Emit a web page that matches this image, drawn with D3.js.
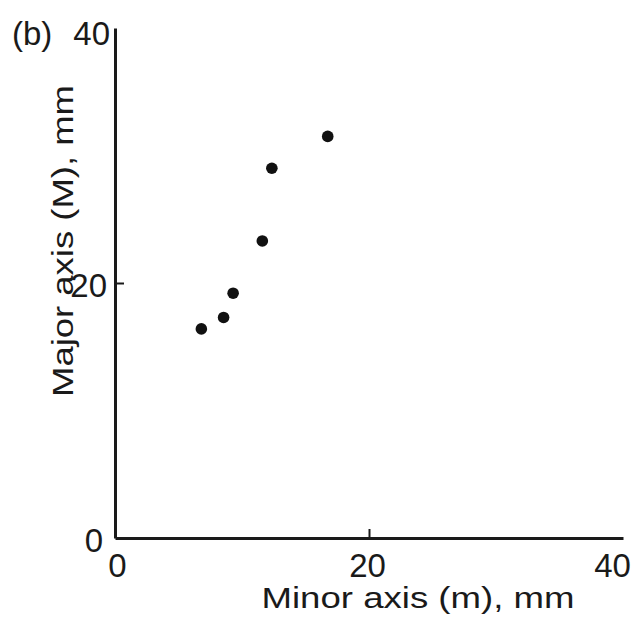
<!DOCTYPE html>
<html>
<head>
<meta charset="utf-8">
<script src="https://cdn.jsdelivr.net/npm/d3@7"></script>
<style>
  body { margin: 0; background: #fff; }
  text { font-family: "Liberation Sans", Arial, Helvetica, sans-serif; fill: #1a1a1a; }
</style>
</head>
<body>
<div id="chart"></div>
<script>
// values (mm)
var minorAxis = [16.75, 12.35, 11.6, 9.3, 8.55, 6.8];
var majorAxis = [31.5, 29.0, 23.3, 19.2, 17.3, 16.4];
var xTicks = [0, 20, 40];
var yTicks = [0, 20, 40];

var W = 644, H = 629;
var margin = {top: 28, right: 21, bottom: 91, left: 115};

var svg = d3.select("#chart").append("svg")
  .attr("width", W)
  .attr("height", H);

var x = d3.scaleLinear().domain([0, 40]).range([margin.left, W - margin.right]);
var y = d3.scaleLinear().domain([0, 40]).range([H - margin.bottom, margin.top]);

// x axis, ticks point inward
var gx = svg.append("g")
  .attr("transform", "translate(0," + y(0) + ")")
  .call(d3.axisBottom(x).tickValues(xTicks).tickSizeInner(-9).tickSizeOuter(0).tickPadding(0));

// y axis
var gy = svg.append("g")
  .attr("transform", "translate(" + x(0) + ",0)")
  .call(d3.axisLeft(y).tickValues(yTicks).tickSizeInner(-9).tickSizeOuter(0).tickPadding(0));

[gx, gy].forEach(function(g) {
  g.select(".domain").attr("stroke", "#1a1a1a").attr("stroke-width", 3);
  g.selectAll(".tick line").attr("stroke", "#1a1a1a").attr("stroke-width", 2)
    .attr("display", function(d) { return (d === 0 || d === 40) ? "none" : null; });
  g.selectAll(".tick text").attr("font-size", 33).attr("fill", "#1a1a1a")
    .attr("font-family", "Liberation Sans, Arial, sans-serif");
});

gx.selectAll(".tick text")
  .attr("y", 39).attr("dy", 0)
  .attr("x", function(d) { return d === 40 ? -11 : (d === 0 ? 2 : -2); });

gy.selectAll(".tick text")
  .attr("x", function(d) { return d === 20 ? -8 : (d === 0 ? -12 : -5); })
  .attr("dy", "0.36em")
  .attr("y", function(d) { return d === 40 ? 5 : 2; });

// panel letter
svg.append("text")
  .attr("x", 12)
  .attr("y", 45)
  .attr("font-size", 33)
  .text("(b)");

// axis titles
svg.append("text")
  .attr("x", 418)
  .attr("y", 608)
  .attr("text-anchor", "middle")
  .attr("font-size", 30)
  .attr("textLength", 313)
  .attr("lengthAdjust", "spacingAndGlyphs")
  .text("Minor axis (m), mm");

svg.append("text")
  .attr("transform", "translate(73,241) rotate(-90)")
  .attr("text-anchor", "middle")
  .attr("font-size", 30)
  .attr("textLength", 312)
  .attr("lengthAdjust", "spacingAndGlyphs")
  .text("Major axis (M), mm");

// points
svg.append("g")
  .selectAll("circle")
  .data(minorAxis)
  .enter()
  .append("circle")
  .attr("cx", function(d) { return x(d); })
  .attr("cy", function(d, i) { return y(majorAxis[i]); })
  .attr("r", 5.8)
  .attr("fill", "#111");
</script>
</body>
</html>
